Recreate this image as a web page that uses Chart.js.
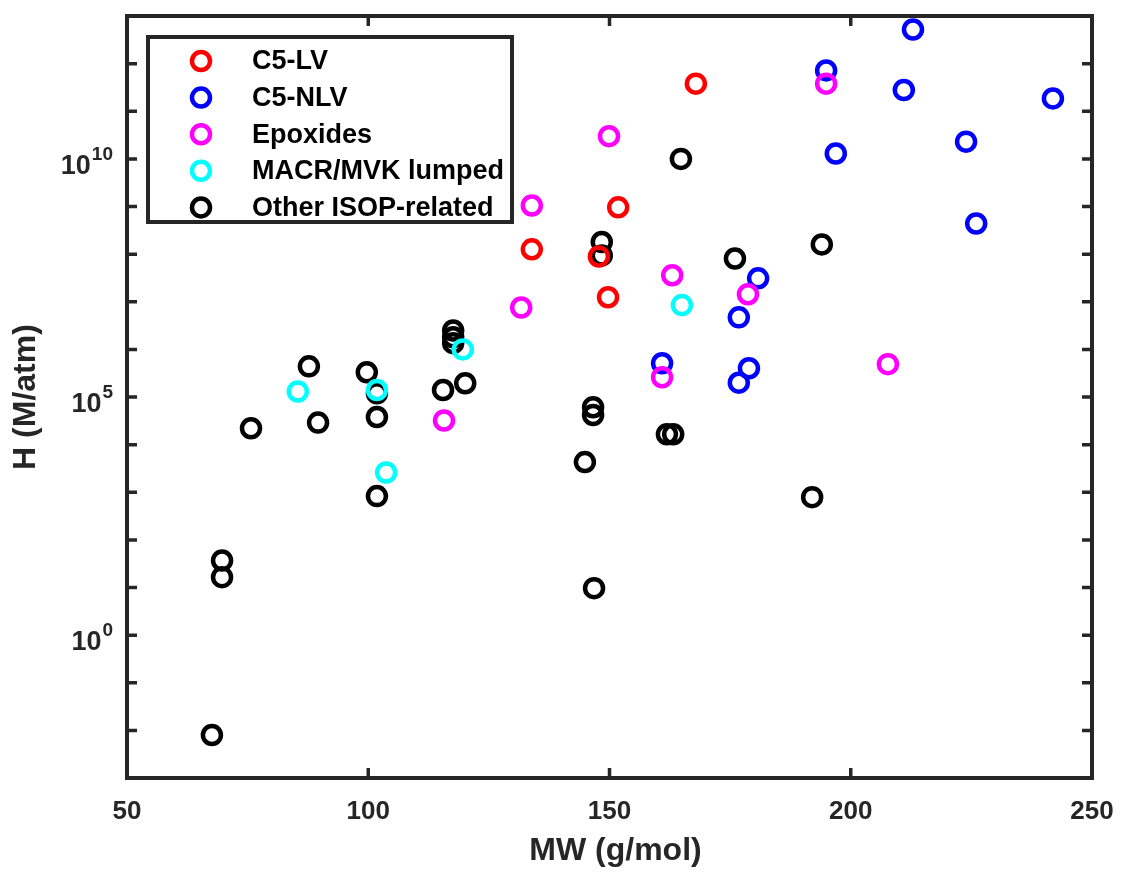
<!DOCTYPE html>
<html>
<head>
<meta charset="utf-8">
<title>H vs MW</title>
<script src="https://cdn.jsdelivr.net/npm/chart.js@4.4.1/dist/chart.umd.min.js"></script>
<style>
  html, body { margin: 0; padding: 0; background: #ffffff; }
  #wrap { width: 1121px; height: 876px; }
</style>
</head>
<body>
<div id="wrap"><canvas id="c" width="1121" height="876"></canvas></div>
<script>
// Molecular weight (g/mol) and Henry's law constant (M/atm) per species group
const mwC5LV = [167.9, 151.8, 133.9, 147.8, 149.7];
const hC5LV  = [3.8e11, 9.6e8, 1.26e8, 8.9e7, 1.24e7];

const mwC5NLV = [212.9, 194.9, 211.0, 241.9, 223.9, 196.9, 226.0, 180.8, 176.8, 160.9, 178.9, 176.8];
const hC5NLV  = [5.2e12, 7.2e11, 2.8e11, 1.86e11, 2.3e10, 1.3e10, 4.4e8, 3.1e7, 4.7e6, 5.1e5, 4.0e5, 2.0e5];

const mwEpox = [194.9, 149.9, 133.9, 163.0, 178.7, 131.7, 207.7, 160.9, 115.7];
const hEpox  = [3.8e11, 3.0e10, 1.05e9, 3.6e7, 1.44e7, 7.6e6, 4.9e5, 2.6e5, 3.2e4];

const mwMacr = [165.0, 119.6, 85.4, 101.8, 103.7];
const hMacr  = [8.5e6, 1.0e6, 1.3e5, 1.4e5, 2.6e3];

const mwOther = [164.8, 148.4, 148.4, 176.0, 194.0, 117.6, 117.6, 117.6, 87.7, 99.7,
                 101.8, 120.1, 115.5, 101.8, 89.6, 75.7, 146.6, 146.6, 144.9, 161.9,
                 163.2, 101.8, 192.0, 69.7, 69.7, 146.8, 67.6];
const hOther  = [1.0e10, 1.8e8, 9.4e7, 8.1e7, 1.6e8, 2.5e6, 1.8e6, 1.35e6, 4.4e5, 3.3e5,
                 1.2e5, 1.95e5, 1.4e5, 3.8e4, 2.9e4, 2.2e4, 6.1e4, 4.2e4, 4.3e3, 1.65e4,
                 1.65e4, 8.3e2, 7.9e2, 37, 16.5, 9.7, 0.008];

const seriesNames  = ['C5-LV', 'C5-NLV', 'Epoxides', 'MACR/MVK lumped', 'Other ISOP-related'];
const seriesColors = ['#ff0000', '#0000ff', '#ff00ff', '#00ffff', '#000000'];

// Axis ticks
const xTicks = [50, 100, 150, 200, 250];
const yDecades = [-3, -2, -1, 0, 1, 2, 3, 4, 5, 6, 7, 8, 9, 10, 11, 12, 13];
const yLabelExps = [0, 5, 10];

const xTitle = 'MW (g/mol)';
const yTitle = 'H (M/atm)';

function pts(xs, ys) { return xs.map((x, i) => ({ x: x, y: ys[i] })); }

const seriesData = [pts(mwC5LV, hC5LV), pts(mwC5NLV, hC5NLV), pts(mwEpox, hEpox), pts(mwMacr, hMacr), pts(mwOther, hOther)];
// stacking: black lowest, then blue, magenta, cyan, red on top
const drawOrder = [0, 3, 2, 1, 4];

const AXIS = '#262626';
const FONT = "'Liberation Sans', Arial, Helvetica, sans-serif";

const framePlugin = {
  id: 'matlabFrame',
  afterDatasetsDraw(chart) {
    const ctx = chart.ctx;
    const a = chart.chartArea;
    const xs = chart.scales.x, ys = chart.scales.y;
    ctx.save();

    // inward ticks on all four sides
    ctx.strokeStyle = AXIS;
    ctx.lineWidth = 3.5;
    const tl = 10;
    ctx.beginPath();
    xTicks.forEach(v => {
      const px = xs.getPixelForValue(v);
      ctx.moveTo(px, a.bottom); ctx.lineTo(px, a.bottom - tl);
      ctx.moveTo(px, a.top); ctx.lineTo(px, a.top + tl);
    });
    yDecades.forEach(e => {
      const py = ys.getPixelForValue(Math.pow(10, e));
      ctx.moveTo(a.left, py); ctx.lineTo(a.left + tl, py);
      ctx.moveTo(a.right, py); ctx.lineTo(a.right - tl, py);
    });
    ctx.stroke();

    // box
    ctx.lineWidth = 4;
    ctx.strokeRect(a.left, a.top, a.right - a.left, a.bottom - a.top);

    // x tick labels
    ctx.fillStyle = AXIS;
    ctx.font = 'bold 26px ' + FONT;
    ctx.textAlign = 'center';
    ctx.textBaseline = 'middle';
    xTicks.forEach(v => {
      ctx.fillText(String(v), xs.getPixelForValue(v), a.bottom + 34);
    });

    // y tick labels as 10 with superscript exponent
    yLabelExps.forEach(e => {
      const py = ys.getPixelForValue(Math.pow(10, e));
      const exp = String(e);
      ctx.font = 'bold 19px ' + FONT;
      const we = ctx.measureText(exp).width;
      const right = a.left - 14;
      ctx.textAlign = 'left';
      ctx.textBaseline = 'alphabetic';
      ctx.fillText(exp, right - we, py + 1);
      ctx.font = 'bold 27px ' + FONT;
      ctx.textAlign = 'right';
      ctx.fillText('10', right - we - 1, py + 15);
    });

    // axis titles
    ctx.font = 'bold 32px ' + FONT;
    ctx.textAlign = 'center';
    ctx.textBaseline = 'middle';
    ctx.fillText(xTitle, (a.left + a.right) / 2 + 6, a.bottom + 73);
    ctx.save();
    ctx.translate(26, (a.top + a.bottom) / 2);
    ctx.rotate(-Math.PI / 2);
    ctx.fillText(yTitle, 0, 0);
    ctx.restore();

    // legend
    const lx = 148, ly = 37, lw = 364, lh = 185;
    ctx.fillStyle = '#ffffff';
    ctx.fillRect(lx, ly, lw, lh);
    ctx.strokeStyle = AXIS;
    ctx.lineWidth = 4;
    ctx.strokeRect(lx, ly, lw, lh);
    ctx.font = 'bold 27px ' + FONT;
    ctx.textAlign = 'left';
    ctx.textBaseline = 'middle';
    chart.data.datasets.forEach((ds, i) => {
      const cy = ly + 24 + i * 36.6;
      ctx.beginPath();
      ctx.arc(lx + 53, cy, 9, 0, Math.PI * 2);
      ctx.strokeStyle = ds.borderColor;
      ctx.lineWidth = 4.5;
      ctx.stroke();
      ctx.fillStyle = '#000000';
      ctx.fillText(ds.label, lx + 104, cy + 1);
    });

    ctx.restore();
  }
};

new Chart(document.getElementById('c'), {
  type: 'scatter',
  data: {
    datasets: seriesNames.map((name, i) => ({
      label: name,
      data: seriesData[i],
      borderColor: seriesColors[i],
      backgroundColor: 'rgba(0,0,0,0)',
      pointRadius: 9,
      pointHoverRadius: 9,
      pointBorderWidth: 4.5,
      order: drawOrder[i]
    }))
  },
  options: {
    responsive: false,
    animation: false,
    events: [],
    layout: { padding: { left: 127, top: 16, right: 29, bottom: 98 } },
    plugins: { legend: { display: false }, tooltip: { enabled: false } },
    scales: {
      x: { type: 'linear', min: 50, max: 250, display: false },
      y: { type: 'logarithmic', min: 1e-3, max: 1e13, display: false }
    }
  },
  plugins: [framePlugin]
});
</script>
</body>
</html>
